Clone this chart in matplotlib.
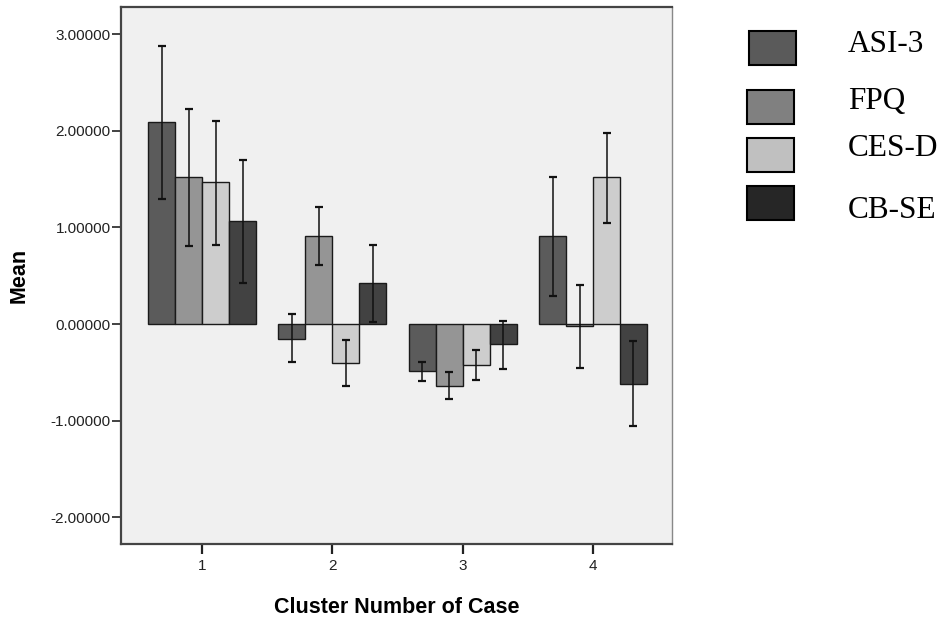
import numpy as np
import matplotlib
matplotlib.use('Agg')
import matplotlib.pyplot as plt
from matplotlib.patches import Rectangle

# data
clusters = [1, 2, 3, 4]
series = ['ASI-3', 'FPQ', 'CES-D', 'CB-SE']

asi3 = [2.09, -0.15, -0.49, 0.91]
fpq = [1.52, 0.91, -0.64, -0.02]
cesd = [1.465, -0.40, -0.42, 1.52]
cbse = [1.07, 0.42, -0.21, -0.62]

# 95% CI ends
asi3_lo = [1.29, -0.39, -0.59, 0.29]
asi3_hi = [2.88, 0.10, -0.39, 1.52]
fpq_lo = [0.81, 0.61, -0.77, -0.455]
fpq_hi = [2.22, 1.21, -0.50, 0.40]
cesd_lo = [0.82, -0.64, -0.58, 1.05]
cesd_hi = [2.10, -0.165, -0.27, 1.98]
cbse_lo = [0.42, 0.02, -0.46, -1.05]
cbse_hi = [1.70, 0.82, 0.03, -0.175]

yticks = [-2, -1, 0, 1, 2, 3]

means = [asi3, fpq, cesd, cbse]
lows = [asi3_lo, fpq_lo, cesd_lo, cbse_lo]
highs = [asi3_hi, fpq_hi, cesd_hi, cbse_hi]
bar_colors = ['#5b5b5b', '#959595', '#cdcdcd', '#424242']
legend_colors = ['#5a5a5a', '#808080', '#c0c0c0', '#262626']

plt.rcParams['font.family'] = ['Liberation Sans', 'DejaVu Sans']

fig = plt.figure(figsize=(9.41, 6.19), dpi=100)
ax = fig.add_axes([121/941, 1-544/619, 551/941, 537/619])
ax.set_facecolor('#f0f0f0')

x = np.array(clusters, dtype=float)
w = 0.207
for i in range(4):
    m = np.array(means[i])
    lo = np.array(lows[i])
    hi = np.array(highs[i])
    xi = x + (i - 1.5) * w
    ax.bar(xi, m, width=w, color=bar_colors[i], edgecolor='#1a1a1a', linewidth=1.0, zorder=2)
    ax.errorbar(xi, m, yerr=[m - lo, hi - m], fmt='none', ecolor='#111111',
                elinewidth=1.1, capsize=2.6, capthick=1.6, zorder=3)

ax.set_xlim(0.378, 4.606)
ax.set_ylim(-2.275, 3.28)
ax.set_xticks(clusters)
ax.set_xticklabels([str(c) for c in clusters], fontsize=11)
ax.set_yticks(yticks)
ax.set_yticklabels(['%.5f' % v for v in yticks], fontsize=11)

ax.tick_params(axis='y', length=6.5, width=1.2, pad=1, colors='#222222')
ax.tick_params(axis='x', length=7, width=1.6, pad=3.5, colors='#222222')

for s in ['left', 'bottom', 'top']:
    ax.spines[s].set_color('#444444')
    ax.spines[s].set_linewidth(1.6)
ax.spines['right'].set_color('#888888')
ax.spines['right'].set_linewidth(1.0)

ax.set_ylabel('Mean', fontsize=15.5, fontweight='bold')
ax.yaxis.set_label_coords(-0.166, 0.5)
ax.set_xlabel('Cluster Number of Case', fontsize=15.5, fontweight='bold', va='top')
ax.xaxis.set_label_coords(0.5, -0.098)

# legend pasted at the right, as in the reference
box_y = [47.8, 106.7, 154.8, 202.8]
box_x = [749, 747, 747, 747]
text_y = [44.5, 101, 148, 210]
for i, name in enumerate(series):
    fig.add_artist(Rectangle(((box_x[i]) / 941, 1 - (box_y[i] + 17) / 619), 47/941, 34/619,
                             transform=fig.transFigure, facecolor=legend_colors[i],
                             edgecolor='black', linewidth=1.5))
    fig.text(848/941, 1 - text_y[i]/619, name, fontsize=22.5, family=['Liberation Serif'],
             ha='left', va='center')

fig.savefig('out.png', dpi=100)
